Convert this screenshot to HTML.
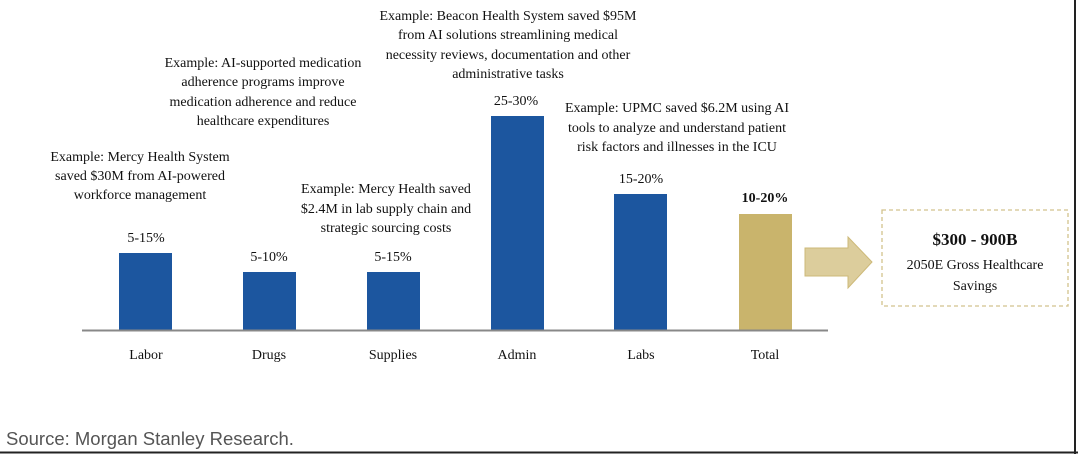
<!DOCTYPE html>
<html><head><style>
html,body{margin:0;padding:0;background:#fff;}
svg{display:block;}
.t{font-family:"Liberation Serif",serif;font-size:14px;fill:#111;text-anchor:middle;}
</style></head><body>
<svg width="1078" height="454" viewBox="0 0 1078 454" xmlns="http://www.w3.org/2000/svg">
<rect width="1078" height="454" fill="#fff"/>
<line x1="1075" y1="0" x2="1075" y2="454" stroke="#222" stroke-width="2"/>
<line x1="0" y1="452.5" x2="1078" y2="452.5" stroke="#222" stroke-width="2"/>
<rect x="119" y="253" width="53" height="77" fill="#1c569f"/>
<rect x="243" y="272" width="53" height="58" fill="#1c569f"/>
<rect x="367" y="272" width="53" height="58" fill="#1c569f"/>
<rect x="491" y="116" width="53" height="214" fill="#1c569f"/>
<rect x="614" y="194" width="53" height="136" fill="#1c569f"/>
<rect x="739" y="214" width="53" height="116" fill="#c9b46c"/>
<line x1="82" y1="330.5" x2="828" y2="330.5" stroke="#888" stroke-width="2"/>
<polygon points="805,248 848,248 848,237 872,262 848,288 848,276 805,276" fill="#dccd9c" stroke="#cdb978" stroke-width="1"/>
<rect x="882" y="210" width="186" height="96" fill="none" stroke="#d2c28d" stroke-width="1.3" stroke-dasharray="4,3"/>
<text class="t" x="975" y="245" style="font-size:17px;font-weight:bold">$300 - 900B</text>
<text class="t" x="975" y="269">2050E Gross Healthcare</text>
<text class="t" x="975" y="290">Savings</text>
<text class="t" x="146" y="359">Labor</text>
<text class="t" x="269" y="359">Drugs</text>
<text class="t" x="393" y="359">Supplies</text>
<text class="t" x="517" y="359">Admin</text>
<text class="t" x="641" y="359">Labs</text>
<text class="t" x="765" y="359">Total</text>
<text class="t" x="146" y="242">5-15%</text>
<text class="t" x="269" y="261">5-10%</text>
<text class="t" x="393" y="261">5-15%</text>
<text class="t" x="516" y="105">25-30%</text>
<text class="t" x="641" y="183">15-20%</text>
<text class="t" x="765" y="202" style="font-weight:bold">10-20%</text>
<text class="t" x="140" y="161">Example: Mercy Health System</text>
<text class="t" x="140" y="180">saved $30M from AI-powered</text>
<text class="t" x="140" y="199">workforce management</text>
<text class="t" x="263" y="67">Example: AI-supported medication</text>
<text class="t" x="263" y="86">adherence programs improve</text>
<text class="t" x="263" y="106">medication adherence and reduce</text>
<text class="t" x="263" y="125">healthcare expenditures</text>
<text class="t" x="386" y="193">Example: Mercy Health saved</text>
<text class="t" x="386" y="213">$2.4M in lab supply chain and</text>
<text class="t" x="386" y="232">strategic sourcing costs</text>
<text class="t" x="508" y="20">Example: Beacon Health System saved $95M</text>
<text class="t" x="508" y="39">from AI solutions streamlining medical</text>
<text class="t" x="508" y="59">necessity reviews, documentation and other</text>
<text class="t" x="508" y="78">administrative tasks</text>
<text class="t" x="677" y="112">Example: UPMC saved $6.2M using AI</text>
<text class="t" x="677" y="132">tools to analyze and understand patient</text>
<text class="t" x="677" y="151">risk factors and illnesses in the ICU</text>
<text x="6" y="445" style="font-family:'Liberation Sans',sans-serif;font-size:18.5px;fill:#555">Source: Morgan Stanley Research.</text>
</svg>
</body></html>
